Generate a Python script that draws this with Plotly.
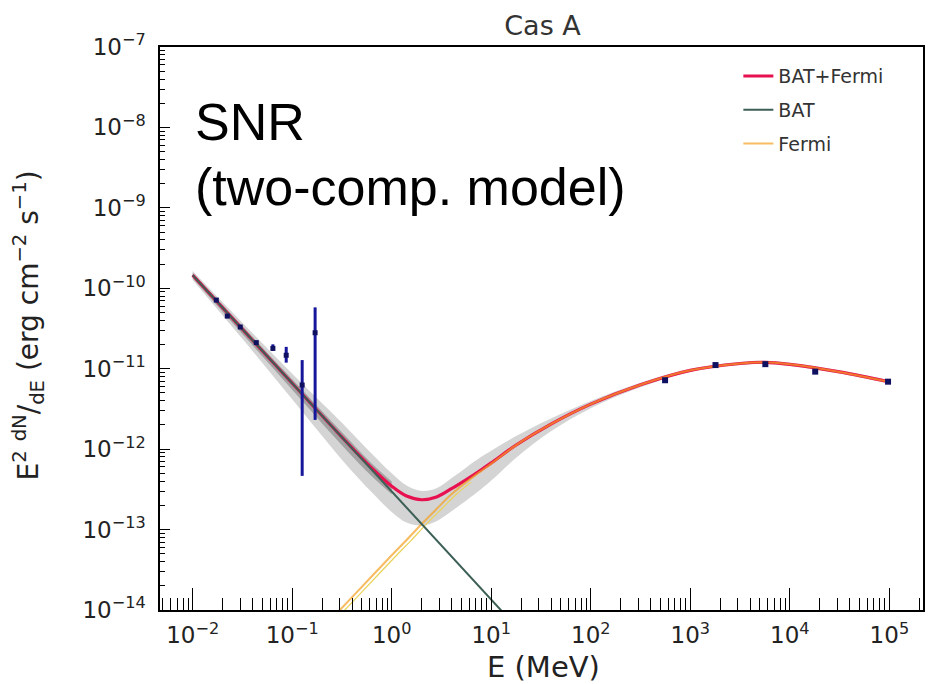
import numpy as np
import plotly.graph_objects as go

# ---------------- model curves: E [MeV] vs E^2 dN/dE [erg cm^-2 s^-1] ----------------
model_energy = [0.01, 0.0316, 0.1, 0.316, 0.631, 1.0, 1.41, 2.0, 2.82, 3.98, 5.62, 7.94,
                10.0, 17.8, 39.8, 100.0, 316.0, 1000.0, 3160.0, 5620.0, 10000.0, 31600.0, 100000.0]
total_flux = [1.459e-10, 3.10e-11, 6.59e-12, 1.41e-12, 5.79e-13, 3.46e-13, 2.61e-13, 2.35e-13,
              2.54e-13, 3.22e-13, 4.19e-13, 5.55e-13, 6.75e-13, 1.127e-12, 2.05e-12, 3.63e-12,
              6.31e-12, 9.55e-12, 1.161e-11, 1.202e-11, 1.135e-11, 9.12e-12, 6.84e-12]
# uncertainty band around the combined model (dex above / below)
band_up_dex = [0.05, 0.08, 0.12, 0.18, 0.18, 0.16, 0.13, 0.11, 0.11, 0.13, 0.15, 0.16,
               0.15, 0.11, 0.07, 0.04, 0.025, 0.02, 0.02, 0.02, 0.02, 0.02, 0.02]
band_dn_dex = [0.06, 0.12, 0.20, 0.28, 0.30, 0.32, 0.33, 0.32, 0.30, 0.28, 0.26, 0.24,
               0.22, 0.16, 0.09, 0.05, 0.03, 0.02, 0.02, 0.02, 0.02, 0.02, 0.02]
core_up_dex = [0.03, 0.04, 0.05, 0.06, 0.06, 0.06]
core_dn_dex = [0.04, 0.06, 0.08, 0.10, 0.10, 0.10]

bat_model_energy = [0.01, 100.0]
bat_model_flux = [1.459e-10, 6.08e-16]

fermi_model_energy = [0.2, 0.302, 0.631, 1.0, 1.41, 2.0, 2.82, 3.98, 5.62, 7.94, 10.0, 17.8,
                      39.8, 100.0, 316.0, 1000.0, 3160.0, 5620.0, 10000.0, 31600.0, 100000.0]
fermi_model_flux = [5.89e-15, 1.0e-14, 2.63e-14, 4.79e-14, 7.41e-14, 1.175e-13, 1.80e-13,
                    2.75e-13, 3.89e-13, 5.37e-13, 6.61e-13, 1.122e-12, 2.04e-12, 3.63e-12,
                    6.31e-12, 9.55e-12, 1.161e-11, 1.202e-11, 1.135e-11, 9.12e-12, 6.84e-12]

# ---------------- measured points ----------------
bat_energy = [0.0173, 0.0223, 0.0301, 0.0436, 0.0640, 0.0871, 0.126, 0.170]
bat_flux = [7.13e-11, 4.51e-11, 3.30e-11, 2.11e-11, 1.79e-11, 1.47e-11, 6.27e-12, 2.80e-11]
bat_flux_hi = [7.13e-11, 4.51e-11, 3.30e-11, 2.11e-11, 2.01e-11, 1.87e-11, 1.28e-11, 5.79e-11]
bat_flux_lo = [7.13e-11, 4.51e-11, 3.30e-11, 2.11e-11, 1.67e-11, 1.19e-11, 4.65e-13, 2.31e-12]

lat_energy = [558.0, 1791.0, 5675.0, 17990.0, 97000.0]
lat_flux = [7.19e-12, 1.11e-11, 1.14e-11, 9.2e-12, 6.9e-12]

x_tick_vals = [1e-2, 1e-1, 1e0, 1e1, 1e2, 1e3, 1e4, 1e5]
x_tick_text = ["10<sup>−2</sup>", "10<sup>−1</sup>", "10<sup>0</sup>", "10<sup>1</sup>",
               "10<sup>2</sup>", "10<sup>3</sup>", "10<sup>4</sup>", "10<sup>5</sup>"]
y_tick_vals = [1e-14, 1e-13, 1e-12, 1e-11, 1e-10, 1e-9, 1e-8, 1e-7]
y_tick_text = ["10<sup>−14</sup>", "10<sup>−13</sup>", "10<sup>−12</sup>", "10<sup>−11</sup>",
               "10<sup>−10</sup>", "10<sup>−9</sup>", "10<sup>−8</sup>", "10<sup>−7</sup>"]

RED = "#e8114f"
TEAL = "#3b5e55"
ORANGE = "#f5a020"
NAVY = "#16169a"

tot = np.array(total_flux)
band_hi = tot * 10 ** np.array(band_up_dex)
band_lo = tot / 10 ** np.array(band_dn_dex)
n_core = len(core_up_dex)
core_hi = tot[:n_core] * 10 ** np.array(core_up_dex)
core_lo = tot[:n_core] / 10 ** np.array(core_dn_dex)

fig = go.Figure()

# shaded uncertainty band
fig.add_trace(go.Scatter(x=model_energy, y=band_hi, mode="lines", line=dict(width=0, shape="spline"),
                         showlegend=False, hoverinfo="skip"))
fig.add_trace(go.Scatter(x=model_energy, y=band_lo, mode="lines", line=dict(width=0, shape="spline"),
                         fill="tonexty", fillcolor="rgba(120,120,125,0.32)", showlegend=False,
                         hoverinfo="skip"))
fig.add_trace(go.Scatter(x=model_energy[:n_core], y=core_hi, mode="lines",
                         line=dict(width=0, shape="spline"), showlegend=False, hoverinfo="skip"))
fig.add_trace(go.Scatter(x=model_energy[:n_core], y=core_lo, mode="lines",
                         line=dict(width=0, shape="spline"), fill="tonexty",
                         fillcolor="rgba(70,70,70,0.35)", showlegend=False, hoverinfo="skip"))

# combined model
fig.add_trace(go.Scatter(x=model_energy, y=total_flux, mode="lines", name="BAT+Fermi",
                         line=dict(color=RED, width=3.2, shape="spline"),
                         legendgroup="a", legendrank=1))
# Fermi component (two close curves)
fig.add_trace(go.Scatter(x=[e * 1.12 for e in fermi_model_energy[:9]], y=fermi_model_flux[:9],
                         mode="lines", line=dict(color="#ead35a", width=1.2, shape="spline"),
                         showlegend=False, hoverinfo="skip"))
fig.add_trace(go.Scatter(x=fermi_model_energy, y=fermi_model_flux, mode="lines", name="Fermi",
                         line=dict(color=ORANGE, width=2.0, shape="spline"), opacity=0.7,
                         legendgroup="c", legendrank=3))
# BAT component
fig.add_trace(go.Scatter(x=bat_model_energy, y=bat_model_flux, mode="lines", name="BAT",
                         line=dict(color=TEAL, width=2.0), legendgroup="b", legendrank=2))

# data points
bat_err_p = [h - f for h, f in zip(bat_flux_hi, bat_flux)]
bat_err_m = [f - l for f, l in zip(bat_flux, bat_flux_lo)]
fig.add_trace(go.Scatter(x=bat_energy, y=bat_flux, mode="markers", showlegend=False,
                         marker=dict(symbol="square", size=5, color="#101060"),
                         error_y=dict(type="data", array=bat_err_p, arrayminus=bat_err_m,
                                      color=NAVY, thickness=3, width=0)))
fig.add_trace(go.Scatter(x=lat_energy, y=lat_flux, mode="markers", showlegend=False,
                         marker=dict(symbol="square", size=6, color="#101060")))

minor_x = [m * 10.0 ** d for d in range(-3, 6) for m in range(2, 10)]
minor_y = [m * 10.0 ** d for d in range(-15, -7) for m in range(2, 10)]

axis_font = dict(family="DejaVu Sans", size=23, color="#222")
fig.update_xaxes(type="log", range=[-2.328, 5.338], tickmode="array", tickvals=x_tick_vals,
                 ticktext=x_tick_text, ticks="inside", ticklen=22, tickwidth=1.2, tickcolor="black",
                 showline=True, linecolor="black", linewidth=1.5, mirror=True, showgrid=False,
                 zeroline=False, tickfont=axis_font, ticklabelstandoff=4,
                 minor=dict(tickmode="array", tickvals=minor_x, ticks="inside", ticklen=12,
                            tickwidth=1, tickcolor="black", showgrid=False))
fig.update_yaxes(type="log", range=[-14, -7], tickmode="array", tickvals=y_tick_vals,
                 ticktext=y_tick_text, ticks="inside", ticklen=10, tickwidth=1.2, tickcolor="black",
                 showline=True, linecolor="black", linewidth=1.5, mirror=True, showgrid=False,
                 zeroline=False, tickfont=axis_font, ticklabelstandoff=8,
                 minor=dict(tickmode="array", tickvals=minor_y, ticks="inside", ticklen=5,
                            tickwidth=1, tickcolor="black", showgrid=False))

fig.update_layout(
    width=929, height=684,
    margin=dict(l=160, r=4, t=47, b=74),
    paper_bgcolor="white", plot_bgcolor="white",
    title=dict(text="Cas A", x=0.584, xanchor="center", y=0.962, yanchor="middle",
               font=dict(family="DejaVu Sans", size=27, color="#333")),
    legend=dict(x=0.758, y=0.982, xanchor="left", yanchor="top", bgcolor="rgba(0,0,0,0)",
                font=dict(family="DejaVu Sans", size=19, color="#333"), tracegroupgap=6,
                traceorder="grouped"),
    showlegend=True,
)

fig.add_annotation(text="E (MeV)", xref="paper", yref="paper", x=0.503, y=-0.101,
                   xanchor="center", yanchor="middle", showarrow=False,
                   font=dict(family="DejaVu Sans", size=29, color="#222"))
fig.add_annotation(text="E<sup>2</sup> <sup>dN</sup>/<sub>dE</sub> (erg cm<sup>−2</sup> s<sup>−1</sup>)",
                   xref="paper", yref="paper", x=-0.172, y=0.505, textangle=-90,
                   xanchor="center", yanchor="middle", showarrow=False,
                   font=dict(family="DejaVu Sans", size=28, color="#222"))
fig.add_annotation(text="SNR", xref="paper", yref="paper", x=0.043, y=0.867,
                   xanchor="left", yanchor="middle", showarrow=False,
                   font=dict(family="Liberation Sans", size=52, color="black"))
fig.add_annotation(text="(two-comp. model)", xref="paper", yref="paper", x=0.043, y=0.752,
                   xanchor="left", yanchor="middle", showarrow=False,
                   font=dict(family="Liberation Sans", size=52, color="black"))

fig.write_html("out.html")
